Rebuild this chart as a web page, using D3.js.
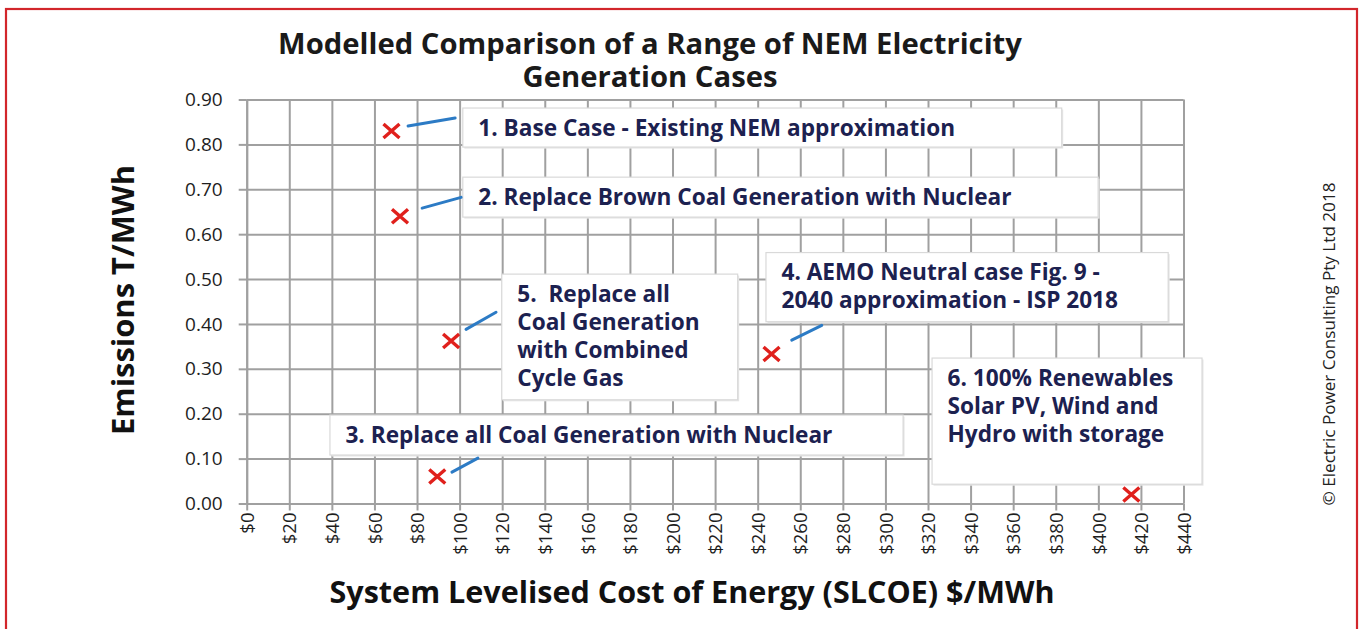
<!DOCTYPE html>
<html>
<head>
<meta charset="utf-8">
<script src="https://cdn.jsdelivr.net/npm/d3@7"></script>
<style>
  html, body { margin: 0; padding: 0; background: #fff; }
  svg { display: block; }
</style>
</head>
<body>
<svg id="chart" width="1364" height="629"></svg>
<script>
// ---------------- DATA ----------------
const caseIds = ["1", "2", "3", "4", "5", "6"];
const costValues = [68, 72, 89.5, 246.5, 96, 415.5];         // SLCOE $/MWh
const emissionValues = [0.83, 0.64, 0.06, 0.333, 0.362, 0.02]; // T/MWh
const caseLabels = [
  ["1. Base Case - Existing NEM approximation"],
  ["2. Replace Brown Coal Generation with Nuclear"],
  ["3. Replace all Coal Generation with Nuclear"],
  ["4. AEMO Neutral case Fig. 9 -", "2040 approximation - ISP 2018"],
  ["5.  Replace all", "Coal Generation", "with Combined", "Cycle Gas"],
  ["6. 100% Renewables", "Solar PV, Wind and", "Hydro with storage"]
];
const xTickValues = [0, 20, 40, 60, 80, 100, 120, 140, 160, 180, 200, 220, 240, 260, 280, 300, 320, 340, 360, 380, 400, 420, 440];
const yTickValues = [0.0, 0.1, 0.2, 0.3, 0.4, 0.5, 0.6, 0.7, 0.8, 0.9];
const titleLines = ["Modelled Comparison of a Range of NEM Electricity", "Generation Cases"];
const xAxisTitle = "System Levelised Cost of Energy (SLCOE) $/MWh";
const yAxisTitle = "Emissions T/MWh";
const copyright = "\u00A9 Electric Power Consulting Pty Ltd 2018";

// ---------------- LAYOUT (annotation boxes in data units) ----------------
const boxLayout = [
  { x0: 101.5, x1: 382.8, y0: 0.881, y1: 0.794, leader: [[75.8, 0.841], [97.9, 0.859]] },
  { x0: 101.5, x1: 399.9, y0: 0.727, y1: 0.638, leader: [[82.4, 0.658], [100.7, 0.682]] },
  { x0: 39.1,  x1: 308.3, y0: 0.197, y1: 0.108, leader: [[96.4, 0.070], [108.6, 0.101]] },
  { x0: 243.9, x1: 432.8, y0: 0.559, y1: 0.405, leader: [[256.0, 0.364], [270.1, 0.397]] },
  { x0: 119.8, x1: 230.6, y0: 0.511, y1: 0.231, leader: [[103.0, 0.388], [117.1, 0.426]] },
  { x0: 321.9, x1: 448.7, y0: 0.324, y1: 0.043, leader: null }
];

const plot = { left: 246.7, right: 1183.5, top: 99.5, bottom: 503.5 };
const FONT = "'Open Sans', 'Noto Sans', sans-serif";

const svg = d3.select("#chart");

const x = d3.scaleLinear().domain([0, 440]).range([plot.left, plot.right]);
const y = d3.scaleLinear().domain([0, 0.9]).range([plot.bottom, plot.top]);

// helper: fit text to a target width by scaling font-size
function fitWidth(sel, target) {
  const node = sel.node();
  const fs = parseFloat(sel.attr("font-size"));
  const w = node.getComputedTextLength();
  sel.attr("font-size", (fs * target / w).toFixed(2));
  return fs * target / w;
}

// outer red frame
svg.append("rect")
  .attr("x", 6).attr("y", 9).attr("width", 1351).attr("height", 650)
  .attr("fill", "none").attr("stroke", "#d2262b").attr("stroke-width", 2.2);

// ---------------- GRID ----------------
const gridColor = "#a0a0a0";
const gx = svg.append("g")
  .attr("transform", `translate(0,${plot.bottom})`)
  .call(d3.axisBottom(x).tickValues(xTickValues).tickSizeInner(-(plot.bottom - plot.top)).tickSizeOuter(0).tickFormat(""));
gx.select(".domain").remove();
gx.selectAll(".tick line").attr("stroke", gridColor).attr("stroke-width", 2);

const gy = svg.append("g")
  .attr("transform", `translate(${plot.left},0)`)
  .call(d3.axisLeft(y).tickValues(yTickValues).tickSizeInner(-(plot.right - plot.left)).tickSizeOuter(0).tickFormat(""));
gy.select(".domain").remove();
gy.selectAll(".tick line").attr("stroke", gridColor).attr("stroke-width", 2);

// ---------------- AXES ----------------
const xAxis = svg.append("g")
  .attr("transform", `translate(0,${plot.bottom})`)
  .call(d3.axisBottom(x).tickValues(xTickValues).tickSizeInner(7).tickSizeOuter(0).tickPadding(9).tickFormat(d => "$" + d));
xAxis.select(".domain").attr("stroke", gridColor).attr("stroke-width", 2);
xAxis.selectAll(".tick line").attr("stroke", gridColor).attr("stroke-width", 2);
xAxis.selectAll(".tick text")
  .attr("font-family", FONT).attr("font-size", 18.5).attr("fill", "#1e1e1e")
  .attr("transform", "rotate(-90)")
  .attr("text-anchor", "end")
  .attr("x", -9).attr("y", 0).attr("dy", "0.36em");

const yAxis = svg.append("g")
  .attr("transform", `translate(${plot.left},0)`)
  .call(d3.axisLeft(y).tickValues(yTickValues).tickSizeInner(8).tickSizeOuter(0).tickPadding(16).tickFormat(d3.format(".2f")));
yAxis.select(".domain").attr("stroke", gridColor).attr("stroke-width", 2);
yAxis.selectAll(".tick line").attr("stroke", gridColor).attr("stroke-width", 2);
yAxis.selectAll(".tick text")
  .attr("font-family", FONT).attr("font-size", 19).attr("fill", "#1e1e1e");

// ---------------- ANNOTATION BOXES ----------------
const navy = "#1c2150";
const boxG = svg.append("g");
const probe = svg.append("text").attr("font-family", FONT).attr("font-weight", "bold")
  .attr("font-size", 20).text(caseLabels[0][0]);
const boxFont = fitWidth(probe, 477);
probe.remove();

boxLayout.forEach((b, i) => {
  const bx = x(b.x0), by = y(b.y0), bw = x(b.x1) - x(b.x0), bh = y(b.y1) - y(b.y0);
  boxG.append("rect")
    .attr("x", bx + 1.5).attr("y", by + 1.5).attr("width", bw).attr("height", bh)
    .attr("fill", "#e6e6e6");
  boxG.append("rect")
    .attr("x", bx).attr("y", by).attr("width", bw).attr("height", bh)
    .attr("fill", "#ffffff").attr("stroke", "#d9d9d9").attr("stroke-width", 1.2);
  const t = boxG.append("text")
    .attr("font-family", FONT).attr("font-weight", "bold")
    .attr("font-size", boxFont).attr("fill", navy)
    .style("white-space", "pre");
  caseLabels[i].forEach((line, j) => {
    t.append("tspan").attr("x", bx + 15.5).attr("y", by + 27.5 + j * 28).text(line);
  });
  if (b.leader) {
    boxG.append("line")
      .attr("x1", x(b.leader[0][0])).attr("y1", y(b.leader[0][1]))
      .attr("x2", x(b.leader[1][0])).attr("y2", y(b.leader[1][1]))
      .attr("stroke", "#2c7bc5").attr("stroke-width", 3).attr("stroke-linecap", "round");
  }
});

// ---------------- MARKERS ----------------
svg.append("g").selectAll("path")
  .data(caseIds.map((id, i) => ({ id, cost: costValues[i], em: emissionValues[i] })))
  .join("path")
  .attr("transform", d => `translate(${x(d.cost)},${y(d.em)})`)
  .attr("d", "M-8,-7L8,7M-8,7L8,-7")
  .attr("stroke", "#e0201c").attr("stroke-width", 3.4).attr("fill", "none");

// ---------------- TITLES ----------------
const t1 = svg.append("text").attr("font-family", FONT).attr("font-weight", "bold")
  .attr("font-size", 26).attr("fill", "#1a1a1a").attr("text-anchor", "middle")
  .attr("x", 650).attr("y", 54).text(titleLines[0]);
const titleFs = fitWidth(t1, 744);
svg.append("text").attr("font-family", FONT).attr("font-weight", "bold")
  .attr("font-size", titleFs).attr("fill", "#1a1a1a").attr("text-anchor", "middle")
  .attr("x", 650).attr("y", 87).text(titleLines[1]);

const xt = svg.append("text").attr("font-family", FONT).attr("font-weight", "bold")
  .attr("font-size", 28).attr("fill", "#111").attr("text-anchor", "middle")
  .attr("x", 692).attr("y", 603).text(xAxisTitle);
fitWidth(xt, 725);

const yt = svg.append("text").attr("font-family", FONT).attr("font-weight", "bold")
  .attr("font-size", 28).attr("fill", "#111").attr("text-anchor", "middle")
  .attr("transform", "translate(134,300) rotate(-90)").text(yAxisTitle);
fitWidth(yt, 270);

const cp = svg.append("text").attr("font-family", FONT)
  .attr("font-size", 15).attr("fill", "#222").attr("text-anchor", "middle")
  .attr("transform", "translate(1335,344) rotate(-90)").text(copyright);
fitWidth(cp, 323);
</script>
</body>
</html>
